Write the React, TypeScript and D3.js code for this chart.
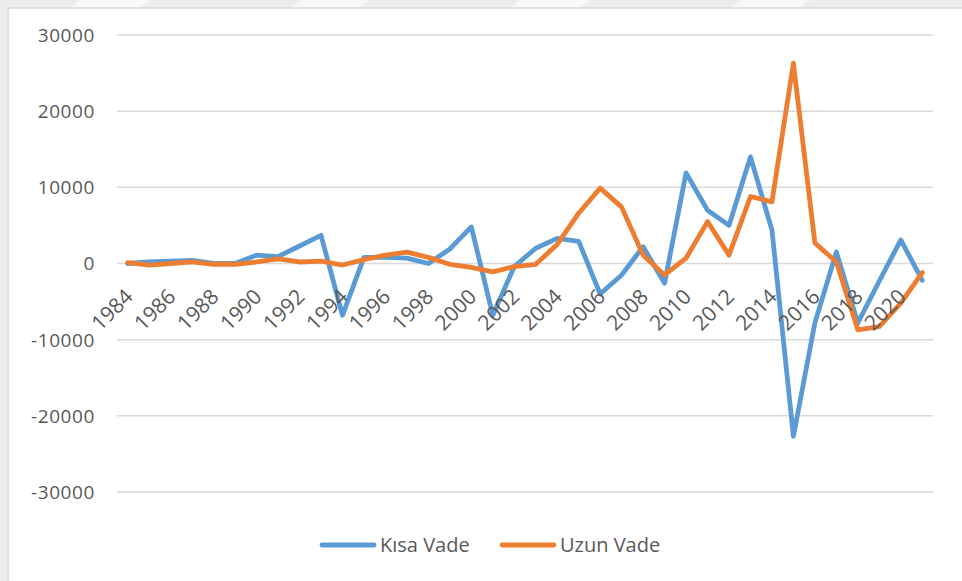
import React from 'react';
import * as d3 from 'd3';

const years: number[] = [
  1984, 1985, 1986, 1987, 1988, 1989, 1990, 1991, 1992, 1993,
  1994, 1995, 1996, 1997, 1998, 1999, 2000, 2001, 2002, 2003,
  2004, 2005, 2006, 2007, 2008, 2009, 2010, 2011, 2012, 2013,
  2014, 2015, 2016, 2017, 2018, 2019, 2020, 2021,
];

const kisaVade: number[] = [
  0, 200, 300, 400, 0, 0, 1100, 900, 2300, 3700,
  -6800, 800, 800, 700, 0, 1900, 4800, -6800, -400, 2000,
  3300, 2900, -4000, -1500, 2200, -2600, 11900, 7000, 5000, 14000,
  4400, -22700, -7800, 1500, -7800, -2300, 3100, -2200,
];

const uzunVade: number[] = [
  100, -200, 0, 200, -100, -100, 200, 600, 200, 300,
  -200, 500, 1100, 1500, 800, -100, -500, -1100, -400, -100,
  2500, 6600, 9900, 7400, 1100, -1500, 700, 5500, 1100, 8800,
  8100, 26300, 2700, 200, -8700, -8300, -5200, -1200,
];

const yTicks: number[] = [30000, 20000, 10000, 0, -10000, -20000, -30000];

const seriesNames: string[] = ['Kısa Vade', 'Uzun Vade'];
const seriesColors: string[] = ['#5B9BD5', '#ED7D31'];

const W = 962;
const H = 581;
const plot = { left: 117, right: 933, top: 35, bottom: 492 };
const font = '"Open Sans", "Liberation Sans", sans-serif';
const textColor = '#595959';

export default function App() {
  const x = d3
    .scaleBand<number>()
    .domain(years)
    .range([plot.left, plot.right]);
  const cx = (yr: number) => (x(yr) as number) + x.bandwidth() / 2;

  const y = d3.scaleLinear().domain([-30000, 30000]).range([plot.bottom, plot.top]);

  const line = d3
    .line<number>()
    .x((_, i) => cx(years[i]))
    .y((d) => y(d));

  const all = [kisaVade, uzunVade];
  const labelYears = years.filter((yr) => (yr - 1984) % 2 === 0);

  const legendY = 545;
  const legendItems = [
    { x: 322, textX: 380 },
    { x: 502, textX: 560 },
  ];

  return (
    <svg
      width={W}
      height={H}
      style={{ position: 'absolute', left: 0, top: 0, background: '#fff' }}
      fontFamily={font}
    >
      {/* faint watermark band on top */}
      <rect x={0} y={0} width={W} height={8} fill="#ececec" />
      {[80, 300, 520, 740].map((sx) => (
        <path key={sx} d={`M${sx},0 L${sx + 70},0 L${sx + 60},8 L${sx - 10},8 Z`} fill="#f8f8f8" />
      ))}
      <rect x={0} y={8} width={8} height={H - 8} fill="#ececec" />
      <rect x={8} y={8} width={W} height={H} fill="#fff" stroke="#d9d9d9" strokeWidth={1.5} />

      {/* gridlines */}
      {yTicks.map((t) => (
        <line
          key={t}
          x1={plot.left}
          x2={plot.right}
          y1={y(t)}
          y2={y(t)}
          stroke="#d9d9d9"
          strokeWidth={1.5}
        />
      ))}

      {/* y labels */}
      {yTicks.map((t) => (
        <text
          key={`l${t}`}
          x={95}
          y={y(t)}
          dy="0.36em"
          textAnchor="end"
          fontSize={19}
          fill={textColor}
          letterSpacing={0.6}
        >
          {t}
        </text>
      ))}

      {/* lines */}
      {all.map((vals, i) => (
        <path
          key={seriesNames[i]}
          d={line(vals) as string}
          fill="none"
          stroke={seriesColors[i]}
          strokeWidth={4.8}
          strokeLinejoin="round"
          strokeLinecap="round"
        />
      ))}

      {/* x labels */}
      {labelYears.map((yr) => (
        <text
          key={yr}
          transform={`translate(${cx(yr) - 4},${y(0) + 24}) rotate(-45)`}
          textAnchor="end"
          dy="0.7em"
          fontSize={21}
          fill={textColor}
        >
          {yr}
        </text>
      ))}

      {/* legend */}
      {legendItems.map((it, i) => (
        <g key={seriesNames[i]}>
          <line
            x1={it.x}
            x2={it.x + 52}
            y1={legendY}
            y2={legendY}
            stroke={seriesColors[i]}
            strokeWidth={4.8}
            strokeLinecap="round"
          />
          <text x={it.textX} y={legendY} dy="0.36em" fontSize={20} fill={textColor}>
            {seriesNames[i]}
          </text>
        </g>
      ))}
    </svg>
  );
}
